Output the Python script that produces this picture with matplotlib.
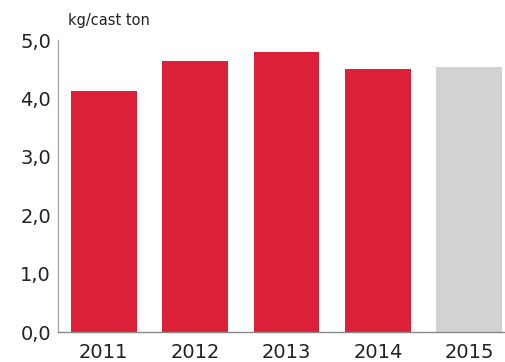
import matplotlib.pyplot as plt

years = ["2011", "2012", "2013", "2014", "2015"]
values = [4.13, 4.64, 4.79, 4.50, 4.54]
colors = ["#dc2037", "#dc2037", "#dc2037", "#dc2037", "#d1d2d4"]
yticks = [0, 1, 2, 3, 4, 5]
ytick_labels = ["0,0", "1,0", "2,0", "3,0", "4,0", "5,0"]

fig = plt.figure(figsize=(5.05, 3.62), dpi=100)
ax = fig.add_axes([58 / 505, 30 / 362, 447 / 505, 292 / 362])

ax.bar(range(len(years)), values, width=0.72, color=colors)
ax.set_xlim(-0.5, 4.39)
ax.set_ylim(0, 5)

ax.set_xticks(range(len(years)))
ax.set_xticklabels(years, fontsize=14, color="#222222")
ax.set_yticks(yticks)
ax.set_yticklabels(ytick_labels, fontsize=14, color="#222222")
ax.tick_params(axis="y", length=0, pad=5)
ax.tick_params(axis="x", length=0, pad=8)

for side in ["top", "right"]:
    ax.spines[side].set_visible(False)
ax.spines["left"].set_color("#aaaaaa")
ax.spines["bottom"].set_color("#888888")
ax.spines["left"].set_linewidth(1.0)
ax.spines["bottom"].set_linewidth(1.0)

fig.text(68 / 505, 1 - 21 / 362, "kg/cast ton", fontsize=10.5, color="#222222",
         va="center", ha="left")

fig.savefig("out.png", dpi=100)
plt.close(fig)
